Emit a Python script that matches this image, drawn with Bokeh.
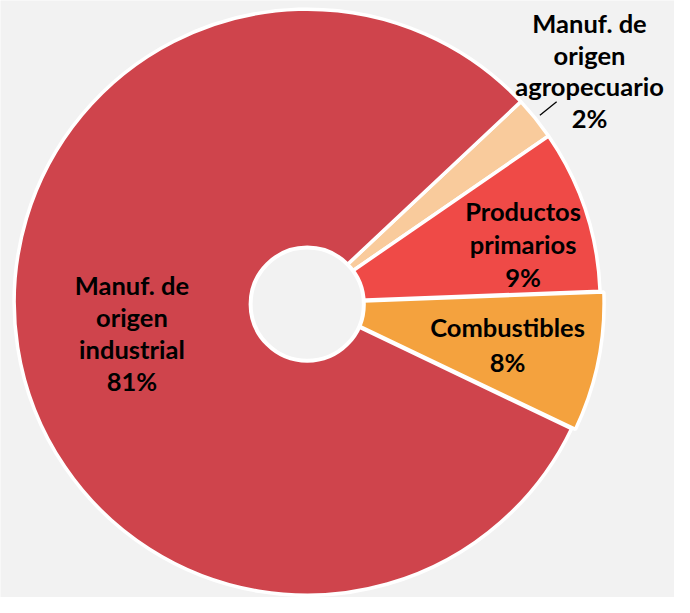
import math
from bokeh.plotting import figure
from bokeh.models import ColumnDataSource, Range1d
from bokeh.embed import file_html
from bokeh.resources import INLINE
from bokeh.core.properties import value

# ---- data (clockwise order, starting at upper right) ----
categories = ["Manuf. de\norigen\nagropecuario", "Productos\nprimarios", "Combustibles",
              "Manuf. de\norigen\nindustrial"]
shares = [2.4, 9.0, 7.7, 80.9]
pct_labels = ["2%", "9%", "8%", "81%"]
colors = ["#F9CB9C", "#EF4A47", "#F4A23E", "#CF444C"]

# ---- style / layout (reference pixel space 690 x 613, y measured downward) ----
W, H = 674, 597
REF_W, REF_H = 690, 613
BG = "#F2F2F2"
CX, CY = 314.0, REF_H - 309.8      # pie centre
R = 300.0
HOLE_R = 60.0
START_DEG = 43.2                   # first slice starts here, slices go clockwise
explode = [0, 0, 4, 0]
# label placement: polar (deg, px) of the middle baseline, and line spacing
label_polar = [(38.25, 368.0), (12.7, 226.5), (-14.64, 211.9), (193.15, 184.3)]
line_gap = [32.5, 34.3, 35.3, 32.9]
TEXT_RAISE = 10.0                  # compensate baseline metrics of the renderer
FONT = "Lato"
FONT_SIZE = "25.5px"

total = sum(shares)
starts, ends, xs, ys, mids = [], [], [], [], []
a = math.radians(START_DEG)
for s, ex in zip(shares, explode):
    span = 2 * math.pi * s / total
    starts.append(a - span)
    ends.append(a)
    mid = a - span / 2
    mids.append(mid)
    xs.append(CX + ex * math.cos(mid))
    ys.append(CY + ex * math.sin(mid))
    a -= span

src = ColumnDataSource(dict(x=xs, y=ys, start=starts, end=ends, color=colors))

p = figure(width=W, height=H, output_backend="svg", toolbar_location=None,
           x_range=Range1d(0, REF_W), y_range=Range1d(0, REF_H),
           min_border=0, background_fill_color=BG, border_fill_color=BG,
           outline_line_color=None)
p.axis.visible = False
p.grid.visible = False

p.wedge(x="x", y="y", radius=R, start_angle="start", end_angle="end",
        fill_color="color", line_color="white", line_width=3.5, source=src)

# hole
hole_px = 2 * HOLE_R * W / REF_W
p.scatter(x=[CX], y=[CY - 2], size=hole_px - 4, marker="circle",
          fill_color=BG, line_color="white", line_width=4)

# leader line for the small slice
m = mids[0]
p.line(x=[CX + 306 * math.cos(m), CX + 328 * math.cos(m)],
       y=[CY + 306 * math.sin(m), CY + 328 * math.sin(m)],
       line_color="black", line_width=1.3)

# labels, one text per line
lx, ly, lt = [], [], []
for (ang, rr), gap, cat, pct in zip(label_polar, line_gap, categories, pct_labels):
    bx = CX + rr * math.cos(math.radians(ang))
    by = CY + rr * math.sin(math.radians(ang)) + TEXT_RAISE
    lines = cat.split("\n") + [pct]
    n = len(lines)
    for i, t in enumerate(lines):
        lx.append(bx)
        ly.append(by - (i - (n - 1) / 2) * gap)
        lt.append(t)
p.text(x=lx, y=ly, text=lt, text_font=value(FONT), text_font_style="bold",
       text_font_size=FONT_SIZE, text_color="#000000", text_align="center",
       text_baseline="alphabetic")

open("out.html", "w").write(file_html(p, INLINE))
